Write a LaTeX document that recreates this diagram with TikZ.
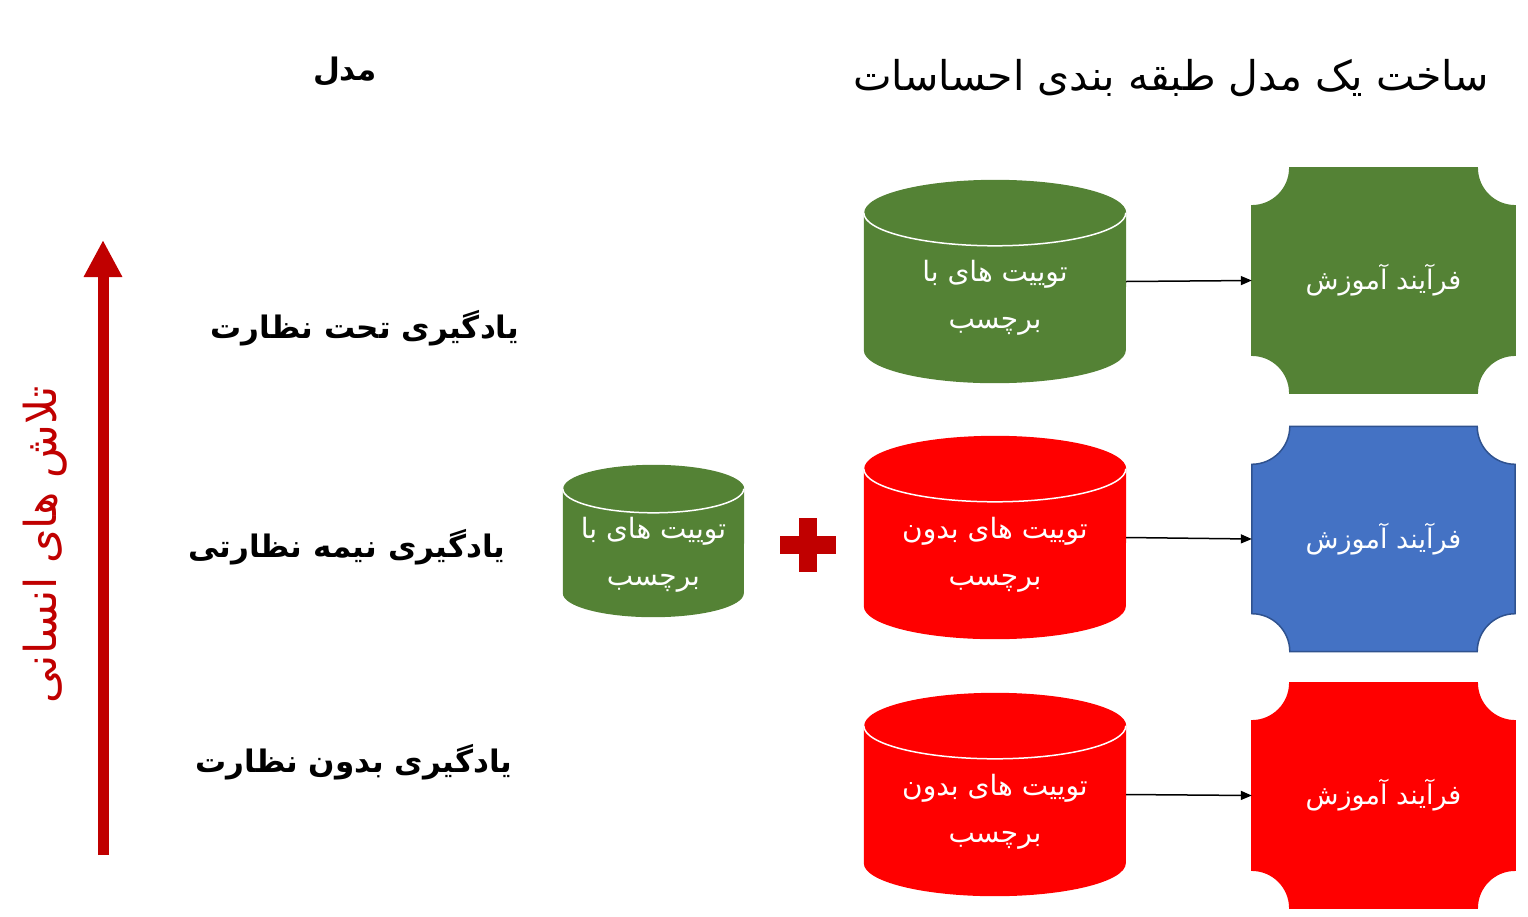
\documentclass[tikz,border=0pt]{standalone}
\usepackage{fontspec}
\newfontfamily\arabicfont[Script=Arabic]{DejaVu Sans}
\TeXXeTstate=1
\usetikzlibrary{arrows.meta,backgrounds,calc}
\definecolor{datagreen}{HTML}{548235}
\definecolor{datared}{HTML}{FF0000}
\definecolor{trainblue}{HTML}{4472C4}
\definecolor{trainborder}{HTML}{2F528F}
\definecolor{effortred}{HTML}{C00000}
\newcommand{\rtl}[1]{\beginR #1\endR}
% plaque behind a node: name, fill, border
\newcommand{\plaque}[3]{%
  \filldraw[fill=#2,draw=#3,line width=1.5pt]
    ($(#1.north west)+(38,0)$) -- ($(#1.north east)+(-38,0)$)
    arc[start angle=180,end angle=90,radius=38]
    -- ($(#1.south east)+(0,-38)$)
    arc[start angle=270,end angle=180,radius=38]
    -- ($(#1.south west)+(38,0)$)
    arc[start angle=0,end angle=-90,radius=38]
    -- ($(#1.north west)+(0,38)$)
    arc[start angle=90,end angle=0,radius=38] -- cycle;}
% drum behind a node: name, fill, x radius, y radius
\newcommand{\drum}[4]{%
  \fill[#2] ($(#1.north west)+(0,#4)$) -- ($(#1.south west)+(0,-#4)$)
    arc[start angle=180,end angle=0,x radius=#3,y radius=#4]
    -- ($(#1.north east)+(0,#4)$)
    arc[start angle=0,end angle=-180,x radius=#3,y radius=#4] -- cycle;
  \draw[white,line width=1.5pt] ($(#1.north west)+(0,#4)$)
    arc[start angle=180,end angle=0,x radius=#3,y radius=#4];}
\tikzset{
  dataset/.style={rectangle,inner sep=0pt,
    minimum width=262pt,minimum height=203pt},
  datatext/.style={text=white,align=center,inner sep=0pt,
    font=\arabicfont\fontsize{28}{47}\selectfont},
  trainbox/.style={rectangle,inner sep=0pt,text=white,
    font=\arabicfont\fontsize{27}{32}\selectfont,
    minimum width=263pt,minimum height=225pt},
  method/.style={font=\arabicfont\bfseries\fontsize{31}{36}\selectfont},
  feed/.style={-{Triangle[length=11pt,width=9pt]},line width=1.5pt}
}
\begin{document}
\begin{tikzpicture}[x=1pt,y=-1pt]
    \useasboundingbox (0,0) rectangle (1528,916);
    % Titulos
    \node[font=\arabicfont\fontsize{41}{46}\selectfont] (title) at (1171,78)
      {\rtl{ساخت یک مدل طبقه بندی احساسات}};
    \node[method] (modelhead) at (345,72) {\rtl{مدل}};
    % Metodos
    \node[method] (supervised) at (365,328) {\rtl{یادگیری تحت نظارت}};
    \node[method] (semi) at (347,547) {\rtl{یادگیری نیمه نظارتی}};
    \node[method] (unsupervised) at (354,762) {\rtl{یادگیری بدون نظارت}};
    % Esfuerzo humano
    \coordinate (effortlow) at (103,855);
    \coordinate (efforthigh) at (103,240);
    \draw[effortred,line width=11pt,-{Triangle[length=37pt,width=36pt]}]
      (effortlow) -- (efforthigh);
    \node[effortred,rotate=90,font=\arabicfont\fontsize{44}{48}\selectfont]
      (effort) at (45,545) {\rtl{تلاش های انسانی}};
    % Datos
    \node[dataset] (labeled) at (995,281.5) {};
    \node[dataset,minimum width=181pt,minimum height=152pt]
      (labeledsmall) at (653.5,541) {};
    \node[dataset] (unlabeled) at (995,537.5) {};
    \node[dataset] (unlabeledlow) at (995,794.5) {};
    \begin{scope}[on background layer]
      \drum{labeled}{datagreen}{131}{33}
      \drum{labeledsmall}{datagreen}{90.5}{24}
      \drum{unlabeled}{datared}{131}{33}
      \drum{unlabeledlow}{datared}{131}{33}
    \end{scope}
    \node[datatext] (labeledtxt) at (995,298) {\rtl{توییت های با}\\\rtl{برچسب}};
    \node[datatext] (labeledsmalltxt) at (653.5,555) {\rtl{توییت های با}\\\rtl{برچسب}};
    \node[datatext] (unlabeledtxt) at (995,555) {\rtl{توییت های بدون}\\\rtl{برچسب}};
    \node[datatext] (unlabeledlowtxt) at (995,812) {\rtl{توییت های بدون}\\\rtl{برچسب}};
    % Signo mas
    \fill[effortred] (780,536) rectangle (836,554);
    \fill[effortred] (799,518) rectangle (817,572);
    % Entrenamiento
    \node[trainbox] (trainsup) at (1383.5,280.5) {\rtl{فرآیند آموزش}};
    \node[trainbox] (trainsemi) at (1383.5,539) {\rtl{فرآیند آموزش}};
    \node[trainbox] (trainunsup) at (1383.5,795.5) {\rtl{فرآیند آموزش}};
    \begin{scope}[on background layer]
      \plaque{trainsup}{datagreen}{datagreen}
      \plaque{trainsemi}{trainblue}{trainborder}
      \plaque{trainunsup}{datared}{datared}
    \end{scope}
    % Flechas
    \draw[feed] (labeled.east) -- (trainsup.west);
    \draw[feed] (unlabeled.east) -- (trainsemi.west);
    \draw[feed] (unlabeledlow.east) -- (trainunsup.west);
\end{tikzpicture}
\end{document}
